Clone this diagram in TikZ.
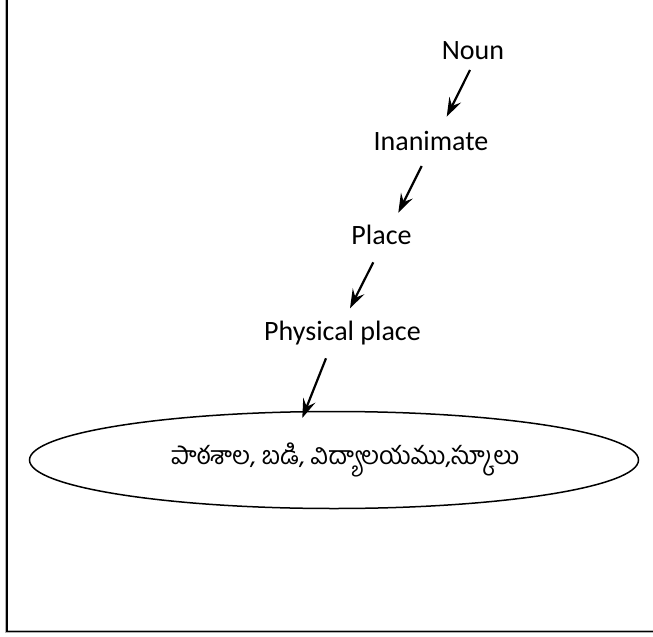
\documentclass[tikz,border=0pt]{standalone}
\usepackage{fontspec}
\setmainfont{Carlito}
\newfontfamily\telugu[Script=Telugu]{Hind Guntur}
\usetikzlibrary{calc,arrows.meta,shapes.geometric}
\tikzset{
  lbl/.style={anchor=base, inner sep=0pt, font=\fontsize{28bp}{32bp}\selectfont},
  arr/.style={line width=2.2bp, -{Stealth[length=19bp,width=13bp,inset=7bp]}},
  ell/.style={draw, ellipse, line width=1.5bp, minimum width=609bp, minimum height=97bp, inner sep=0pt,
              font=\telugu\fontsize{25bp}{28bp}\selectfont},
  frameshade/.style={draw=gray!60, line width=3.2bp},
  frameline/.style={draw=black, line width=1.4bp}
}
\begin{document}
\begin{tikzpicture}[x=1bp,y=-1bp]
\useasboundingbox (0,0) rectangle (653,637);
\path[frameshade] (6.8,0) |- (653,631.5);
\path[frameline] (6.8,0) |- (653,631.5);
\node[lbl] (noun) at (473,59.3) {Noun};
\node[lbl] (inan) at (431,151) {Inanimate};
\node[lbl] (place) at (381.5,244) {Place};
\node[lbl] (phys) at (342.5,340) {Physical place};
\node[ell] (school) at (334,460) {\hspace*{22bp}పాఠశాల, బడి, విద్యాలయము,స్కూలు};
\draw[arr] ($(noun.base)+(-3,10.7)$) -- ($(inan.base)+(15.7,-34.3)$);
\draw[arr] ($(inan.base)+(-9.3,15)$) -- ($(place.base)+(16.8,-31.3)$);
\draw[arr] ($(place.base)+(-8.2,18.3)$) -- ($(phys.base)+(7.5,-31.7)$);
\draw[arr] ($(phys.base)+(-16.5,18.3)$) -- ($(school.north)+(-31.7,7.2)$);
\end{tikzpicture}
\end{document}
